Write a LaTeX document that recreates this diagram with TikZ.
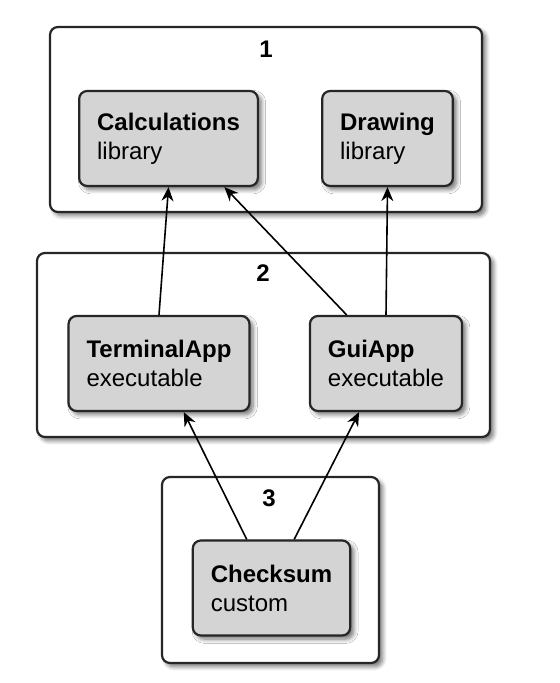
\documentclass[tikz,border=0pt]{standalone}
\usepackage{fontspec}
\setmainfont{Liberation Sans}
\usetikzlibrary{arrows.meta, shadows.blur}

\begin{document}
\begin{tikzpicture}[x=.5pt, y=-.5pt,
    cluster/.style={draw=black!85, line width=1.1pt, rounded corners=4pt, fill=white,
        blur shadow={shadow xshift=1.8pt, shadow yshift=-1.8pt, shadow blur steps=6, shadow opacity=55}},
    target/.style={cluster, fill=black!17, align=left, inner xsep=9pt, minimum height=47.5pt,
        font=\fontsize{12}{14.5}\selectfont},
    num/.style={font=\fontsize{12}{14.5}\selectfont\bfseries},
    dep/.style={-{Stealth[length=7pt, width=6pt]}, line width=.8pt}]

\useasboundingbox (0,0) rectangle (560,683);

\node[cluster, minimum width=216pt, minimum height=92.5pt] (cl1) at (266,119.5) {};
\node[cluster, minimum width=226.5pt, minimum height=92pt] (cl2) at (263.5,345) {};
\node[cluster, minimum width=108.5pt, minimum height=93pt] (cl3) at (270.5,570) {};

\node[num] (n1) at (266,49) {1};
\node[num] (n2) at (263,273) {2};
\node[num] (n3) at (269,498) {3};

\node[target] (calc) at (168.5,138.5) {\textbf{Calculations}\\library};
\node[target] (drawlib) at (387.5,138.5) {\textbf{Drawing}\\library};
\node[target] (term) at (159,363.5) {\textbf{TerminalApp}\\executable};
\node[target] (gui) at (386,363.5) {\textbf{GuiApp}\\executable};
\node[target] (check) at (271.5,588) {\textbf{Checksum}\\custom};

\draw[dep] (term.north) -- (calc.south);
\draw[dep] (gui.129) -- (calc.-41);
\draw[dep] (gui.north) -- (drawlib.south);
\draw[dep] (check.117) -- (term.-63);
\draw[dep] (check.65) -- (gui.-119);

\end{tikzpicture}
\end{document}
